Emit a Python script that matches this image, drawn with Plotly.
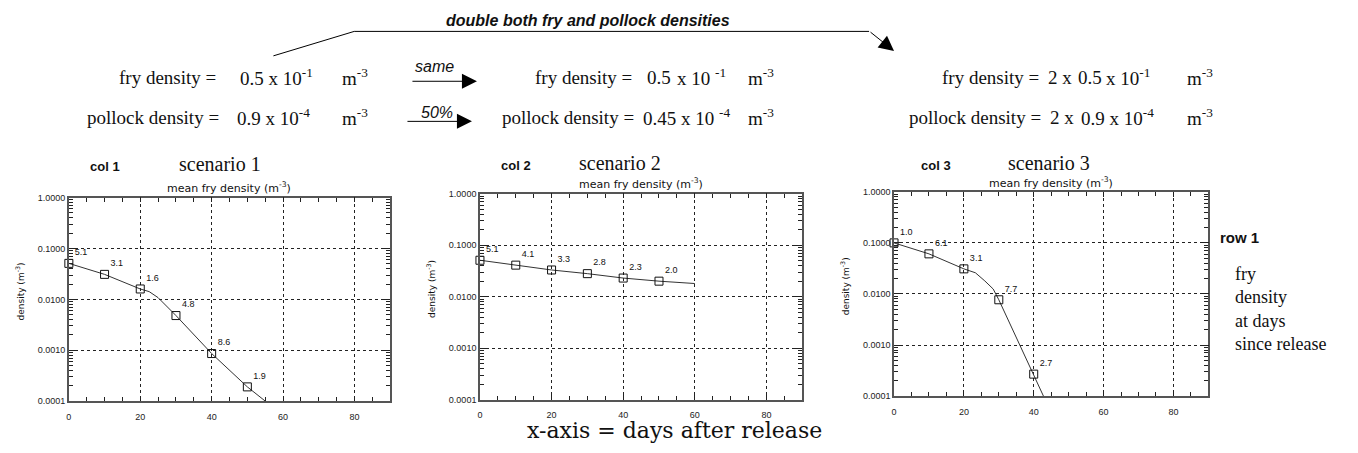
import plotly.graph_objects as go

W, H = 1358, 453

# ---------------- data ----------------
days_s1 = [0, 10, 20, 30, 40, 50]
dens_s1 = [0.051, 0.031, 0.016, 0.0048, 0.00086, 0.00019]
lab_s1 = ["5.1", "3.1", "1.6", "4.8", "8.6", "1.9"]
curve_days_s1 = [0, 10, 20, 22.5, 25, 27, 30, 40, 50, 55]
curve_dens_s1 = [0.051, 0.031, 0.016, 0.0142, 0.0108, 0.0079, 0.0048, 0.00086, 0.00019, 0.0001]

days_s2 = [0, 10, 20, 30, 40, 50]
dens_s2 = [0.051, 0.041, 0.033, 0.028, 0.023, 0.020]
lab_s2 = ["5.1", "4.1", "3.3", "2.8", "2.3", "2.0"]
curve_days_s2 = [0, 10, 20, 30, 40, 50, 60]
curve_dens_s2 = [0.051, 0.041, 0.033, 0.028, 0.023, 0.020, 0.018]

days_s3 = [0, 10, 20, 30, 40]
dens_s3 = [0.10, 0.061, 0.031, 0.0077, 0.00027]
lab_s3 = ["1.0", "6.1", "3.1", "7.7", "2.7"]
curve_days_s3 = [0, 10, 20, 23.3, 26, 28.4, 30, 40, 42.8]
curve_dens_s3 = [0.10, 0.061, 0.031, 0.026, 0.018, 0.0125, 0.0077, 0.00027, 0.0001]

x_ticks = [0, 20, 40, 60, 80]
y_ticks = [0.0001, 0.001, 0.01, 0.1, 1.0]
y_ticktext = ["0.0001", "0.0010", "0.0100", "0.1000", "1.0000"]

# ---------------- layout helpers ----------------
def px(x):
    return x / W

def py(y):
    return 1 - y / H

panels = [
    dict(x0=66, x1=388, y0=197, y1=405),
    dict(x0=478, x1=801, y0=193, y1=403.5),
    dict(x0=893, x1=1208, y0=191, y1=400),
]

SANS = "Liberation Sans"
DSANS = "DejaVu Sans"
SERIF = "Liberation Serif"

minor_y = [k * 10 ** e for e in range(-4, 0) for k in range(2, 10)]
minor_x = [v for v in range(5, 90, 5) if v not in x_ticks]

fig = go.Figure()

series = [
    (curve_days_s1, curve_dens_s1, days_s1, dens_s1, lab_s1),
    (curve_days_s2, curve_dens_s2, days_s2, dens_s2, lab_s2),
    (curve_days_s3, curve_dens_s3, days_s3, dens_s3, lab_s3),
]

for i, (cd, cv, d, v, lab) in enumerate(series):
    sfx = "" if i == 0 else str(i + 1)
    fig.add_trace(go.Scatter(x=cd, y=cv, mode="lines", line=dict(color="#333", width=1),
                             xaxis="x" + sfx, yaxis="y" + sfx, showlegend=False, hoverinfo="skip"))
    fig.add_trace(go.Scatter(x=d, y=v, mode="markers+text", text=lab, textposition="top right",
                             textfont=dict(family=SANS, size=9, color="#111"),
                             marker=dict(symbol="square-open", size=8, color="#111", line=dict(width=1)),
                             cliponaxis=False,
                             xaxis="x" + sfx, yaxis="y" + sfx, showlegend=False))
    # empty trace on the overlay axes that carry the minor ticks
    fig.add_trace(go.Scatter(x=[], y=[], xaxis="x%d" % (i + 4), yaxis="y%d" % (i + 4),
                             showlegend=False, hoverinfo="skip"))

layout = dict(width=W, height=H, margin=dict(l=0, r=0, t=0, b=0),
              paper_bgcolor="white", plot_bgcolor="white", showlegend=False)

for i, p in enumerate(panels):
    sfx = "" if i == 0 else str(i + 1)
    xd = [px(p["x0"]), px(p["x1"])]
    yd = [py(p["y1"]), py(p["y0"])]
    layout["xaxis" + sfx] = dict(
        domain=xd, anchor="y" + sfx, range=[0, 90],
        tickmode="array", tickvals=x_ticks, ticks="inside", ticklen=5, tickwidth=1, tickcolor="#222",
        mirror="allticks", showline=True, linecolor="#555", linewidth=1.5,
        showgrid=True, gridcolor="#222", griddash="dot", gridwidth=1, zeroline=False,
        tickfont=dict(family=SANS, size=9, color="#222"), ticklabelstandoff=6,
        fixedrange=True,
    )
    layout["yaxis" + sfx] = dict(
        domain=yd, anchor="x" + sfx, type="log", range=[-4, 0],
        tickmode="array", tickvals=y_ticks, ticktext=y_ticktext, ticks="inside", ticklen=7, tickwidth=1,
        tickcolor="#222", mirror="allticks", showline=True, linecolor="#555", linewidth=1.5,
        showgrid=True, gridcolor="#222", griddash="dot", gridwidth=1, zeroline=False,
        tickfont=dict(family=SANS, size=9, color="#222"),
        fixedrange=True,
    )
    # overlay axes for minor ticks
    layout["xaxis%d" % (i + 4)] = dict(
        domain=xd, anchor="y%d" % (i + 4), overlaying="x" + sfx, range=[0, 90],
        tickmode="array", tickvals=minor_x, ticks="inside", ticklen=4, tickwidth=1, tickcolor="#222",
        mirror="allticks", showticklabels=False, showgrid=False, showline=False, zeroline=False,
        fixedrange=True,
    )
    layout["yaxis%d" % (i + 4)] = dict(
        domain=yd, anchor="x%d" % (i + 4), overlaying="y" + sfx, type="log", range=[-4, 0],
        tickmode="array", tickvals=minor_y, ticks="inside", ticklen=4, tickwidth=1, tickcolor="#222",
        mirror="allticks", showticklabels=False, showgrid=False, showline=False, zeroline=False,
        fixedrange=True,
    )

anns = []

def ann(x, y, text, size, family, xanchor="left", yanchor="middle", color="#111", angle=0, align="left"):
    anns.append(dict(x=px(x), y=py(y), xref="paper", yref="paper", text=text, showarrow=False,
                     xanchor=xanchor, yanchor=yanchor, textangle=angle, align=align,
                     font=dict(family=family, size=size, color=color)))

sup = lambda s: "<sup>" + s + "</sup>"

# top formulas: (x, text, anchor)
R1, R2 = 74, 115
FS = 19
rows = [
    (R1, [(215, "fry density =", "right"), (236, "0.5 x 10" + sup("-1"), "left"), (338, "m" + sup("-3"), "left")]),
    (R2, [(218, "pollock density =", "right"), (233, "0.9 x 10" + sup("-4"), "left"), (338, "m" + sup("-3"), "left")]),
    (R1, [(632, "fry density =", "right"), (643, "0.5", "left"), (673, "x 10 " + sup("-1"), "left"),
          (745, "m" + sup("-3"), "left")]),
    (R2, [(634, "pollock density =", "right"), (639, "0.45 x 10 " + sup("-4"), "left"), (745, "m" + sup("-3"), "left")]),
    (R1, [(1040, "fry density =", "right"), (1045, "2 x", "left"), (1075, "0.5", "left"),
          (1103, "x 10" + sup("-1"), "left"), (1185, "m" + sup("-3"), "left")]),
    (R2, [(1042, "pollock density =", "right"), (1047, "2 x", "left"), (1078, "0.9 x 10" + sup("-4"), "left"),
          (1185, "m" + sup("-3"), "left")]),
]
for yy, pieces in rows:
    for xx, t, a in pieces:
        ann(xx, yy, t, FS, SERIF, a)

# arrow labels
ann(442, 16, "<b><i>double both fry and pollock densities</i></b>", 16, SANS, "left")
ann(411, 63, "<i>same</i>", 16, SANS, "left")
ann(417, 110, "<i>50%</i>", 16, SANS, "left")

# panel headers
heads = [(85, 174, 165), (497, 575, 164), (918, 1005, 164)]
for i, (cx, sx, yy) in enumerate(heads):
    ann(cx, yy, "<b>col %d</b>" % (i + 1), 13, SANS, "left")
    ann(sx, yy - 2, "scenario %d" % (i + 1), 20, SERIF, "left")
for p in panels:
    ann((p["x0"] + p["x1"]) / 2, p["y0"] - 10, "mean fry density (m" + sup("-3") + ")", 11, DSANS, "center")
    ann(p["x0"] - 49, (p["y0"] + p["y1"]) / 2 - 8, "density (m" + sup("-3") + ")", 9, DSANS, "center", angle=-90)

# right side
ann(1218, 238, "<b>row 1</b>", 15, SANS, "left")
ann(1233, 311, "<br>".join(["fry", "density", "at days", "since release"]), 18, SERIF, "left")

# x-axis label
ann(523, 435, "x-axis = days after release", 22, "DejaVu Serif", "left")

# arrows
def arrow(x_tail, y_tail, x_head, y_head):
    anns.append(dict(x=px(x_head), y=py(y_head), xref="paper", yref="paper", text="",
                     showarrow=True, ax=x_tail - x_head, ay=y_tail - y_head, axref="pixel", ayref="pixel",
                     arrowhead=2, arrowsize=3, arrowwidth=1, arrowcolor="#000"))

arrow(409, 78, 475, 78)
arrow(404, 119, 470, 119)
arrow(868, 27, 893, 47)

layout["annotations"] = anns
layout["shapes"] = [dict(type="path", xref="paper", yref="paper",
                         path="M %f,%f L %f,%f L %f,%f" % (px(271), py(52), px(352), py(27), px(868), py(27)),
                         line=dict(color="#000", width=1))]

fig.update_layout(**layout)
fig.write_html("out.html", config={"displayModeBar": False},
               post_script="document.body.style.margin='0';")
